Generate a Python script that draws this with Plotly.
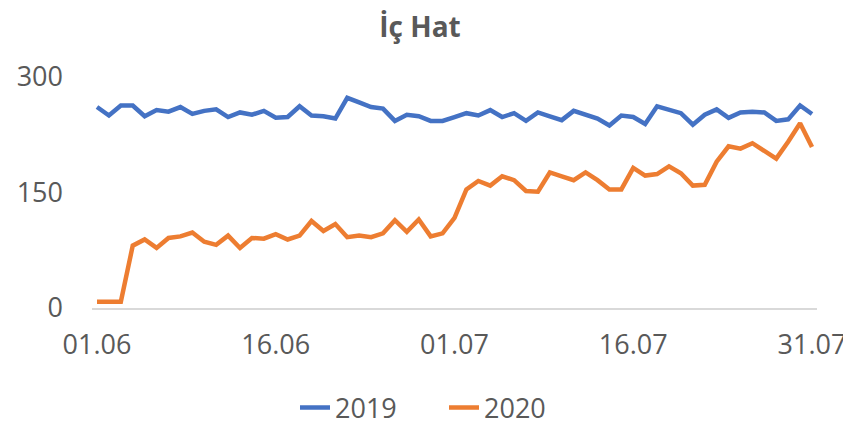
import plotly.graph_objects as go
import pandas as pd

dates = [d.strftime("%d.%m") for d in pd.date_range("2020-06-01", "2020-07-31")]
tick_labels = ["01.06", "16.06", "01.07", "16.07", "31.07"]

series_2019 = [261, 250, 263, 263, 249, 257, 255, 261, 252, 256, 258, 248, 254, 251, 256,
               247, 248, 262, 250, 249, 246, 273, 267, 261, 259, 243, 251, 249, 243, 243,
               248, 253, 250, 257, 248, 253, 243, 254, 249, 244, 256, 251, 246, 237, 250,
               248, 239, 262, 258, 253, 238, 251, 258, 247, 254, 255, 254, 243, 245, 263, 252]
series_2020 = [8, 8, 8, 81, 89, 78, 91, 93, 98, 86, 82, 94, 78, 91, 90,
               96, 89, 94, 113, 100, 109, 92, 94, 92, 97, 114, 99, 115, 93, 97,
               117, 154, 165, 159, 171, 166, 152, 151, 176, 171, 166, 176, 166, 154, 154,
               182, 172, 174, 184, 175, 159, 160, 190, 210, 207, 214, 204, 194, 216, 240, 209]

FONT = "Open Sans, Noto Sans, DejaVu Sans, sans-serif"
GRAY = "#595959"
W, H = 843, 421  # page body has an 8px margin

fig = go.Figure()
fig.add_trace(go.Scatter(x=dates, y=series_2019, mode="lines", name="2019",
                         line=dict(color="#4472C4", width=4.5)))
fig.add_trace(go.Scatter(x=dates, y=series_2020, mode="lines", name="2020",
                         line=dict(color="#ED7D31", width=4.5)))

fig.update_layout(
    width=W, height=H,
    margin=dict(l=84, r=34, t=69, b=121, autoexpand=False),
    paper_bgcolor="white", plot_bgcolor="white",
    font=dict(family=FONT, size=27, color=GRAY),
    title=dict(text="<b>İç Hat</b>", x=412 / W, xref="container", xanchor="center",
               y=1 - 19 / H, yref="container", yanchor="middle",
               font=dict(family=FONT, size=28, color=GRAY)),
    showlegend=True,
    legend=dict(orientation="h", x=436 / W, xref="container", xanchor="center",
                y=1 - 400 / H, yref="container", yanchor="middle",
                font=dict(family=FONT, size=27, color=GRAY),
                entrywidth=104, entrywidthmode="pixels", tracegroupgap=0),
)
fig.update_xaxes(type="category", tickmode="array", tickvals=tick_labels, ticktext=tick_labels,
                 range=[-0.42, 60.42], showgrid=False, zeroline=False, automargin=False,
                 showline=True, linecolor="#D9D9D9", linewidth=1.5,
                 ticks="", ticklabelstandoff=12, tickfont=dict(size=27, color=GRAY))
fig.update_yaxes(range=[0, 300], tickvals=[0, 150, 300], showgrid=False, zeroline=False,
                 showline=False, ticks="", ticklabelstandoff=28, automargin=False,
                 tickfont=dict(size=27, color=GRAY))

fig.write_html("out.html")
